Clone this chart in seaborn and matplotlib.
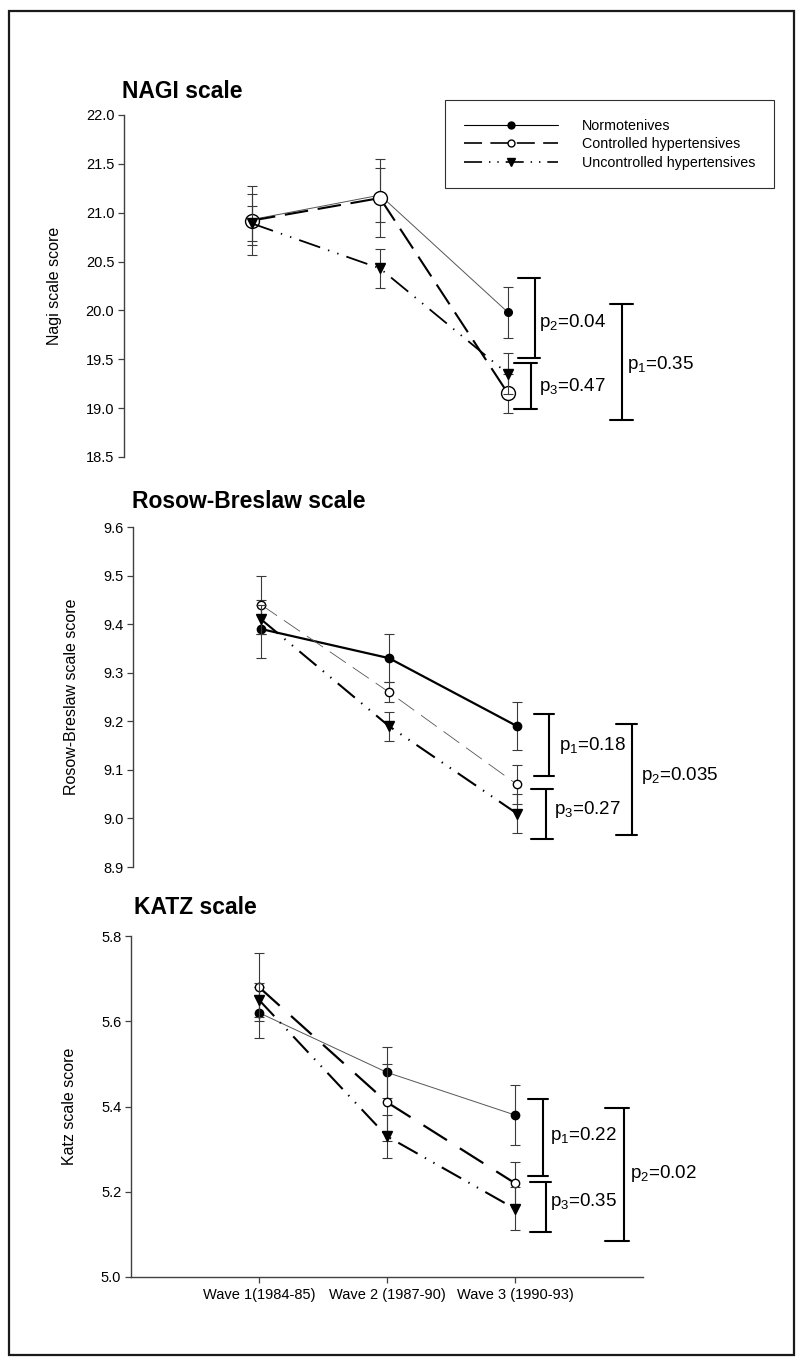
import numpy as np
import pandas as pd
import matplotlib
matplotlib.use('Agg')
import matplotlib.pyplot as plt
import seaborn as sns
from matplotlib.lines import Line2D
from matplotlib.patches import Rectangle
from matplotlib.ticker import FormatStrFormatter

# ---------------- data ----------------
waves = [1, 2, 3]
wave_labels = ['Wave 1(1984-85)', 'Wave 2 (1987-90)', 'Wave 3 (1990-93)']
groups = ['Normotenives', 'Controlled hypertensives', 'Uncontrolled hypertensives']

nagi_normo = [20.93, 21.18, 19.98]
nagi_normo_se = [0.26, 0.28, 0.26]
nagi_ctrl = [20.92, 21.15, 19.15]
nagi_ctrl_se = [0.35, 0.40, 0.20]
nagi_unctrl = [20.89, 20.43, 19.35]
nagi_unctrl_se = [0.18, 0.20, 0.21]

rb_normo = [9.39, 9.33, 9.19]
rb_normo_se = [0.06, 0.05, 0.05]
rb_ctrl = [9.44, 9.26, 9.07]
rb_ctrl_se = [0.06, 0.02, 0.04]
rb_unctrl = [9.41, 9.19, 9.01]
rb_unctrl_se = [0.03, 0.03, 0.04]

katz_normo = [5.62, 5.48, 5.38]
katz_normo_se = [0.06, 0.06, 0.07]
katz_ctrl = [5.68, 5.41, 5.22]
katz_ctrl_se = [0.08, 0.09, 0.05]
katz_unctrl = [5.65, 5.33, 5.16]
katz_unctrl_se = [0.04, 0.05, 0.05]

titles = ['NAGI scale', 'Rosow-Breslaw scale', 'KATZ scale']
ylabels = ['Nagi scale score', 'Rosow-Breslaw scale score', 'Katz scale score']
ylims = [(18.5, 22.0), (8.9, 9.6), (5.0, 5.8)]
yticks = [np.arange(18.5, 22.01, 0.5), np.arange(8.9, 9.61, 0.1), np.arange(5.0, 5.81, 0.2)]

# p-value annotations: (label, x_vertical, x_cap_left, x_cap_right, y_top, y_bottom, text_x, text_y)
nagi_p = [(r'p$_2$=0.04', 3.21, 3.08, 3.25, 20.335, 19.51, 3.24, 19.88),
          (r'p$_3$=0.47', 3.18, 3.05, 3.23, 19.46, 18.99, 3.24, 19.22),
          (r'p$_1$=0.35', 3.89, 3.80, 3.98, 20.07, 18.88, 3.93, 19.45)]
rb_p = [(r'p$_1$=0.18', 3.25, 3.13, 3.29, 9.215, 9.087, 3.33, 9.151),
        (r'p$_3$=0.27', 3.23, 3.11, 3.28, 9.06, 8.957, 3.29, 9.019),
        (r'p$_2$=0.035', 3.90, 3.77, 3.94, 9.194, 8.966, 3.97, 9.089)]
katz_p = [(r'p$_1$=0.22', 3.22, 3.10, 3.26, 5.418, 5.238, 3.27, 5.333),
          (r'p$_3$=0.35', 3.24, 3.12, 3.28, 5.222, 5.106, 3.27, 5.177),
          (r'p$_2$=0.02', 3.85, 3.70, 3.89, 5.396, 5.085, 3.90, 5.243)]

# ---------------- style ----------------
sns.set_style('ticks')
plt.rcParams['font.family'] = ['Liberation Sans', 'DejaVu Sans']
plt.rcParams['mathtext.default'] = 'regular'
plt.rcParams['lines.scale_dashes'] = False
plt.rcParams['text.color'] = 'black'
plt.rcParams['axes.labelcolor'] = 'black'
plt.rcParams['xtick.color'] = 'black'
plt.rcParams['ytick.color'] = 'black'

DASHDOTDOT = (0, (16, 6, 1, 6, 1, 6))

fig = plt.figure(figsize=(8, 13.72), dpi=100)

# outer frame
fig.patches.append(Rectangle((9 / 800, 1 - 1355 / 1372), (794 - 9) / 800, (1355 - 10.5) / 1372,
                             transform=fig.transFigure, fill=False, edgecolor='#1a1a1a',
                             linewidth=1.6, zorder=0))

axes_pos = [[124 / 800, 1 - 457 / 1372, 512 / 800, 342 / 1372],
            [133 / 800, 1 - 867 / 1372, 512 / 800, 340 / 1372],
            [131 / 800, 1 - 1277 / 1372, 512 / 800, 341 / 1372]]

panel_data = [
    (nagi_normo, nagi_normo_se, nagi_ctrl, nagi_ctrl_se, nagi_unctrl, nagi_unctrl_se, nagi_p),
    (rb_normo, rb_normo_se, rb_ctrl, rb_ctrl_se, rb_unctrl, rb_unctrl_se, rb_p),
    (katz_normo, katz_normo_se, katz_ctrl, katz_ctrl_se, katz_unctrl, katz_unctrl_se, katz_p),
]

panel_styles = [
    [dict(lw=0.7, ls='-', color='#555555', marker='o', ms=5.5, mfc='black'),
     dict(lw=1.5, ls=(0, (17, 7)), color='black', marker='o', ms=10, mfc='white'),
     dict(lw=1.3, ls=DASHDOTDOT, color='black', marker='v', ms=6.5, mfc='black')],
    [dict(lw=1.6, ls='-', color='black', marker='o', ms=6, mfc='black'),
     dict(lw=0.6, ls=(0, (14, 6)), color='#555555', marker='o', ms=6, mfc='white'),
     dict(lw=1.5, ls=DASHDOTDOT, color='black', marker='v', ms=6.5, mfc='black')],
    [dict(lw=0.7, ls='-', color='#555555', marker='o', ms=6, mfc='black'),
     dict(lw=1.6, ls=(0, (20, 11)), color='black', marker='o', ms=6, mfc='white'),
     dict(lw=1.5, ls=DASHDOTDOT, color='black', marker='v', ms=6.5, mfc='black')],
]

title_pos = [(122 / 800, 1 - 92 / 1372), (132 / 800, 1 - 502 / 1372), (134 / 800, 1 - 908 / 1372)]
ylabel_x = [-0.121, -0.105, -0.105]

for i in range(3):
    ax = fig.add_axes(axes_pos[i])
    normo, normo_se, ctrl, ctrl_se, unctrl, unctrl_se, pvals = panel_data[i]
    series = [(normo, normo_se), (ctrl, ctrl_se), (unctrl, unctrl_se)]
    for k, ((vals, se), st) in enumerate(zip(series, panel_styles[i])):
        z = 2 + k
        ax.errorbar(waves, vals, yerr=se, fmt='none', ecolor='#3a3a3a', elinewidth=0.8,
                    capsize=3.8, capthick=0.8, zorder=z)
        df = pd.DataFrame({'wave': waves, 'score': vals})
        sns.lineplot(data=df, x='wave', y='score', ax=ax, color=st['color'], linewidth=st['lw'],
                     linestyle=st['ls'], marker=st['marker'], markersize=st['ms'],
                     markerfacecolor=st['mfc'], markeredgecolor='black', markeredgewidth=1.0,
                     zorder=z + 0.5, legend=False, errorbar=None)
    ax.set_xlim(0, 4)
    ax.set_ylim(*ylims[i])
    ax.set_yticks(yticks[i])
    ax.yaxis.set_major_formatter(FormatStrFormatter('%.1f'))
    ax.set_ylabel(ylabels[i], fontsize=11.5, color='black')
    ax.yaxis.set_label_coords(ylabel_x[i], 0.5)
    ax.set_xlabel('')
    for s in ['top', 'right']:
        ax.spines[s].set_visible(False)
    ax.spines['left'].set_color('#404040')
    ax.spines['left'].set_linewidth(1.0)
    ax.tick_params(axis='y', direction='out', length=4, width=0.9, color='#404040',
                   labelsize=10.5, labelcolor='black', pad=3)
    if i < 2:
        ax.spines['bottom'].set_visible(False)
        ax.set_xticks([])
    else:
        ax.spines['bottom'].set_color('#404040')
        ax.spines['bottom'].set_linewidth(1.0)
        ax.set_xticks(waves)
        ax.set_xticklabels(wave_labels)
        ax.tick_params(axis='x', direction='out', length=4, width=0.9, color='#404040',
                       labelsize=10.5, labelcolor='black', pad=4)
    # p-value brackets
    for lab, xv, xl, xr, yt, yb, tx, ty in pvals:
        ax.plot([xv, xv], [yt, yb], color='black', lw=1.5, clip_on=False, zorder=6,
                solid_capstyle='butt')
        ax.plot([xl, xr], [yt, yt], color='black', lw=1.5, clip_on=False, zorder=6)
        ax.plot([xl, xr], [yb, yb], color='black', lw=1.5, clip_on=False, zorder=6)
        ax.text(tx, ty, lab, fontsize=13.5, ha='left', va='center', clip_on=False, color='black')
    fig.text(title_pos[i][0], title_pos[i][1], titles[i], fontsize=16.5, fontweight='bold',
             ha='left', va='center', color='black')

# legend
handles = [
    Line2D([0], [0], color='black', lw=0.8, ls='-', marker='o', ms=5, mfc='black', mec='black'),
    Line2D([0], [0], color='black', lw=1.2, ls=(0, (13, 6)), marker='o', ms=5, mfc='white', mec='black'),
    Line2D([0], [0], color='black', lw=1.2, ls=(0, (13, 5, 1, 5, 1, 5)), marker='v', ms=6, mfc='black', mec='black'),
]
leg = fig.legend(handles, groups, loc='upper left', bbox_to_anchor=(445 / 800, 1 - 100 / 1372),
                 frameon=True, fancybox=False, framealpha=1, edgecolor='#303030',
                 fontsize=10.3, handlelength=6.6, handletextpad=1.7, labelspacing=0.32,
                 borderpad=1.3, borderaxespad=0)
leg.get_frame().set_linewidth(0.8)
for t in leg.get_texts():
    t.set_color('black')

fig.savefig('out.png', dpi=100)
